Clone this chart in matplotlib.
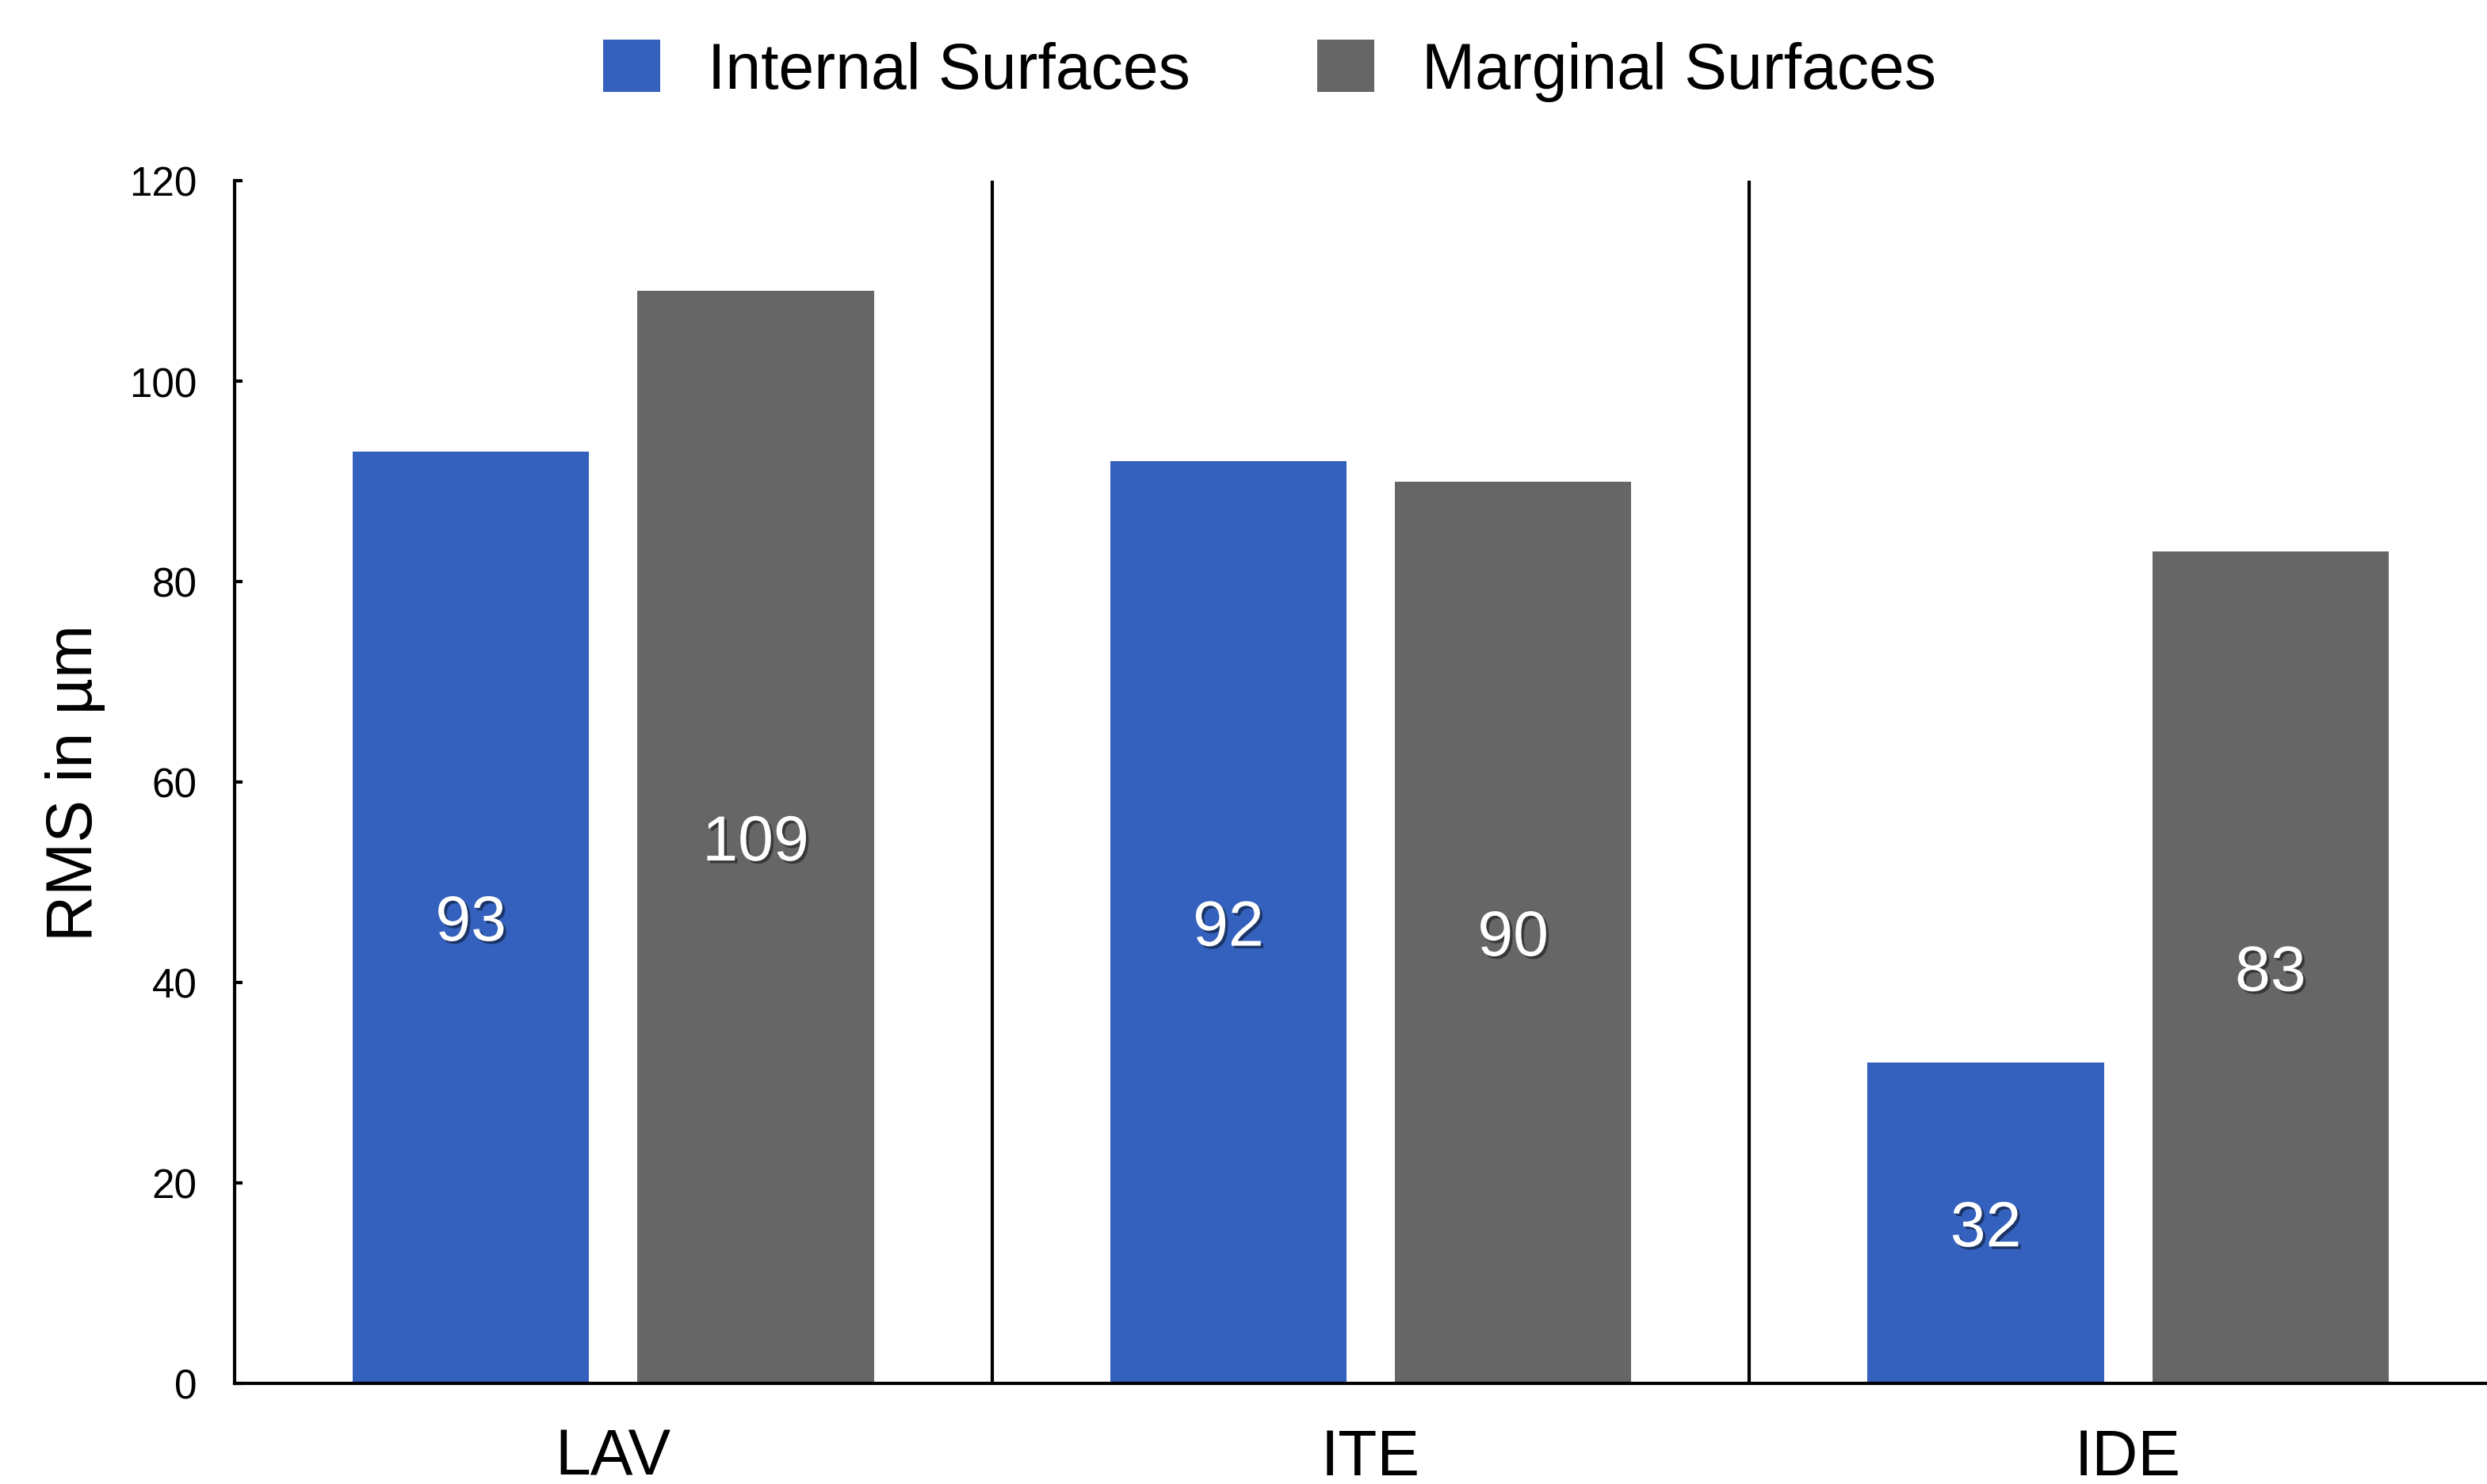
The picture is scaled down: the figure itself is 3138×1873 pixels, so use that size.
"""Grouped bar chart: RMS deviation of internal vs marginal surfaces."""

import matplotlib.pyplot as plt
import matplotlib.patheffects as pe
import numpy as np

plt.rcParams["font.family"] = ["Liberation Sans", "DejaVu Sans"]

DPI = 200
FIGSIZE = (3138 / DPI, 1874 / DPI)

groups = ["LAV", "ITE", "IDE"]
internal = [93, 92, 32]
marginal = [109, 90, 83]
series_names = ["Internal Surfaces", "Marginal Surfaces"]
yticks = [0, 20, 40, 60, 80, 100, 120]

BLUE = "#3461be"
GREY = "#666666"

fig = plt.figure(figsize=FIGSIZE, dpi=DPI)
ax = fig.add_axes([296 / 3138, 1 - 1747 / 1874, (3163 - 296) / 3138, (1747 - 229) / 1874])

x = np.arange(len(groups))
width = 0.312
offset = 0.188
b1 = ax.bar(x - offset, internal, width, color=BLUE, label=series_names[0])
b2 = ax.bar(x + offset, marginal, width, color=GREY, label=series_names[1])

shadow = [pe.SimplePatchShadow(offset=(1.2, -1.2), shadow_rgbFace="black", alpha=0.45),
          pe.Normal()]
for bars, vals in ((b1, internal), (b2, marginal)):
    for rect, v in zip(bars, vals):
        ax.text(rect.get_x() + rect.get_width() / 2, v / 2, str(v),
                ha="center", va="center_baseline", color="white", fontsize=29,
                path_effects=shadow)

for sep in (0.5, 1.5):
    ax.plot([sep, sep], [0, 120], color="black", lw=1.5, solid_capstyle="butt")

ax.set_xlim(-0.5, 2.5)
ax.set_ylim(0, 120)
ax.set_yticks(yticks)
ax.set_xticks(x)
ax.set_xticklabels(groups, fontsize=29)
ax.tick_params(axis="x", length=0, pad=20)
ax.tick_params(axis="y", direction="in", length=3.6, width=1.5, labelsize=18.4, pad=17)
for side in ("top", "right"):
    ax.spines[side].set_visible(False)
for side in ("left", "bottom"):
    ax.spines[side].set_linewidth(1.5)
ax.set_ylabel("RMS in µm", fontsize=29, labelpad=11)

fig.legend(handles=[b1, b2], loc="center", bbox_to_anchor=(0.5105, 1 - 90 / 1874),
           ncol=2, frameon=False, fontsize=29, handlelength=0.89, handleheight=0.87,
           handletextpad=0.74, columnspacing=2.0)

fig.savefig("out.png", dpi=DPI)
plt.close(fig)
